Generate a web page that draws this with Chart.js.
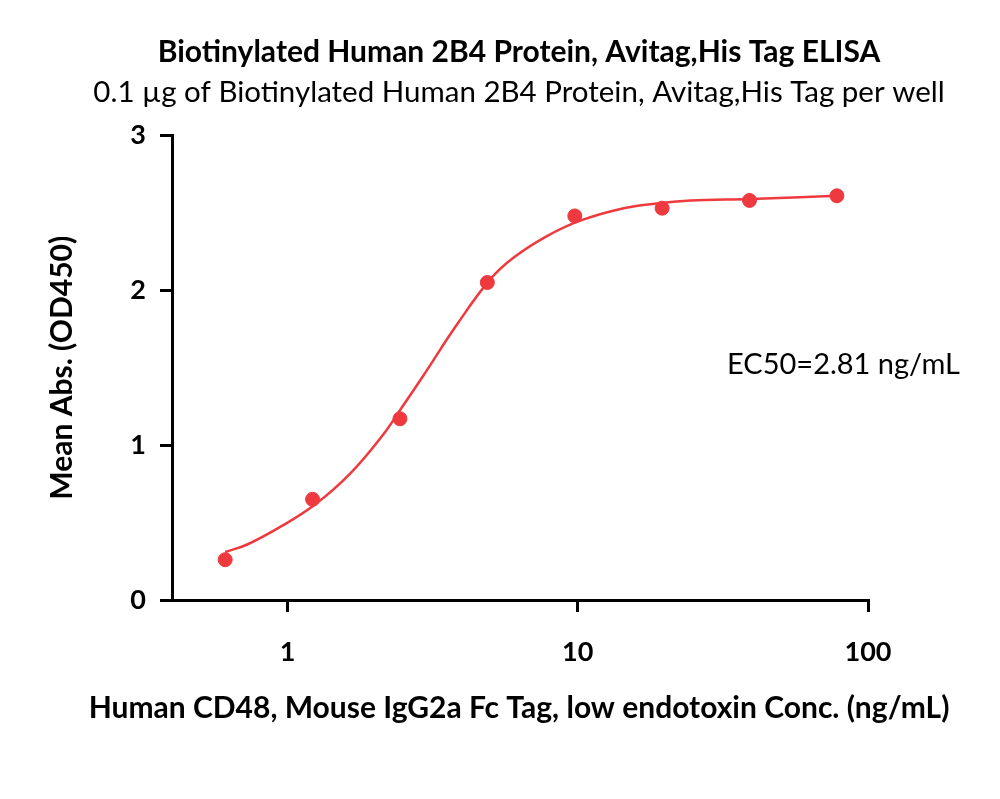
<!DOCTYPE html>
<html>
<head>
<meta charset="utf-8">
<script src="https://cdn.jsdelivr.net/npm/chart.js@4"></script>
<style>
  html,body{margin:0;padding:0;background:#fff}
</style>
</head>
<body>
<canvas id="chart" width="1000" height="799"></canvas>
<script>
/* ELISA binding curve — Biotinylated Human 2B4 vs Human CD48 */

// measured points (ng/mL, OD450)
const concentrations = [0.61, 1.22, 2.44, 4.88, 9.77, 19.53, 39.06, 78.13];
const meanAbs        = [0.26, 0.65, 1.17, 2.05, 2.48, 2.53, 2.58, 2.61];

// fitted curve
const fitConc = [0.61, 0.73, 0.96, 1.25, 1.65, 2.14, 2.45, 2.94, 3.84, 4.99, 6.0, 7.83, 10.2, 14.4, 18.7, 24.4, 39.3, 78.0];
const fitAbs  = [0.31, 0.36, 0.48, 0.62, 0.82, 1.07, 1.23, 1.45, 1.78, 2.07, 2.21, 2.35, 2.45, 2.53, 2.56, 2.58, 2.59, 2.61];

const xTicks = [1, 10, 100];
const yTicks = [0, 1, 2, 3];

const titleText = 'Biotinylated Human 2B4 Protein, Avitag,His Tag ELISA';
const subtitleText = '0.1 \u00b5g of Biotinylated Human 2B4 Protein, Avitag,His Tag per well';
const xTitle = 'Human CD48, Mouse IgG2a Fc Tag, low endotoxin Conc. (ng/mL)';
const yTitle = 'Mean Abs. (OD450)';
const ec50Text = 'EC50=2.81 ng/mL';

const FONT = 'Lato';
const RED = 'rgb(238,58,62)';

// x title is wider than the axis, so Chart.js would squeeze it; draw it here instead
const extraText = {
  id: 'extraText',
  afterDraw(chart){
    const ctx = chart.ctx;
    ctx.save();
    ctx.fillStyle = '#000';
    ctx.textBaseline = 'middle';
    ctx.font = '29px ' + FONT;
    ctx.textAlign = 'left';
    ctx.fillText(ec50Text, 727, 365);
    ctx.font = 'bold 30px ' + FONT;
    ctx.textAlign = 'center';
    ctx.fillText(xTitle, 519, 708);
    ctx.restore();
  }
};

new Chart(document.getElementById('chart'), {
  type: 'scatter',
  data: {
    datasets: [
      { label: 'data', data: concentrations.map((c,i)=>({x:c, y:meanAbs[i]})),
        backgroundColor: RED, borderColor: RED, pointRadius: 7, pointHoverRadius: 7, showLine: false },
      { label: 'fit', data: fitConc.map((c,i)=>({x:c, y:fitAbs[i]})),
        borderColor: RED, borderWidth: 2.5, pointRadius: 0, showLine: true, tension: 0.4 }
    ]
  },
  options: {
    responsive: false,
    animation: false,
    layout: { padding: { left: 38, right: 0, top: 0, bottom: 0 } },
    plugins: {
      legend: { display: false },
      tooltip: { enabled: false },
      title: { display: true, text: titleText, color: '#000',
        font: { family: FONT, size: 30, weight: 'bold' }, padding: { top: 34, bottom: 0 } },
      subtitle: { display: true, text: subtitleText, color: '#000',
        font: { family: FONT, size: 29.5, weight: 'normal' }, padding: { top: 5, bottom: 25 } }
    },
    scales: {
      x: {
        type: 'logarithmic', min: 0.4, max: 100,
        afterBuildTicks: s => { s.ticks = xTicks.map(v => ({ value: v })); },
        afterFit: s => { s.height = 199; },
        border: { color: '#000', width: 3 },
        grid: { drawOnChartArea: false, color: '#000', lineWidth: 3, tickLength: 12 },
        ticks: { color: '#000', font: { family: FONT, size: 27, weight: 'bold' }, padding: 24,
          maxRotation: 0, autoSkip: false, callback: v => String(v) },
        title: { display: false }
      },
      y: {
        min: 0, max: 3,
        afterBuildTicks: s => { s.ticks = yTicks.map(v => ({ value: v })); },
        afterFit: s => { s.width = 134; },
        border: { color: '#000', width: 3 },
        grid: { drawOnChartArea: false, color: '#000', lineWidth: 3, tickLength: 12 },
        ticks: { color: '#000', font: { family: FONT, size: 27, weight: 'bold' }, padding: 14 },
        title: { display: true, text: yTitle, color: '#000',
          font: { family: FONT, size: 30, weight: 'bold' }, padding: { top: 6, bottom: 0 } }
      },
      spacer: {
        position: 'right', display: true,
        afterFit: s => { s.width = 132; },
        grid: { display: false }, border: { display: false }, ticks: { display: false }
      }
    }
  },
  plugins: [extraText]
});
</script>
</body>
</html>
